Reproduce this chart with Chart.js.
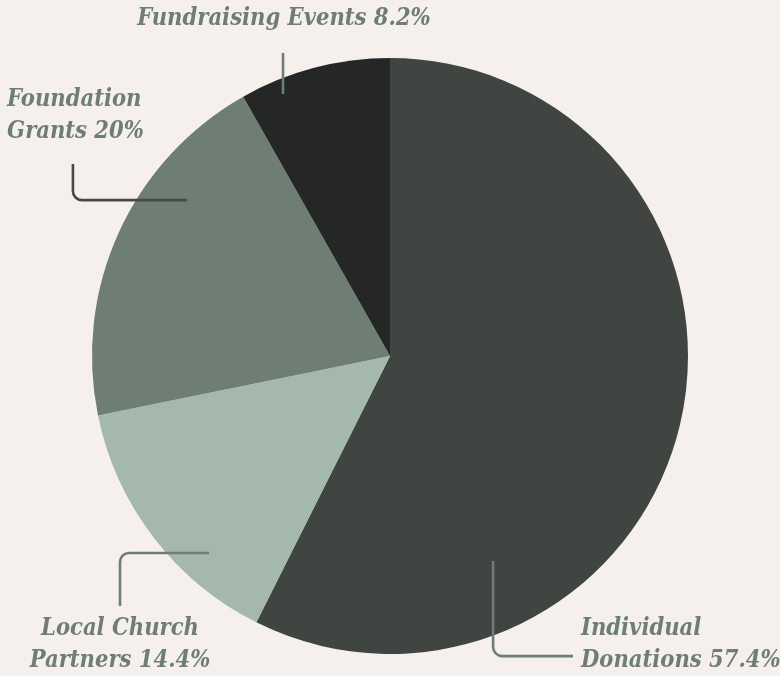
<!DOCTYPE html>
<html><head><meta charset="utf-8">
<script src="https://cdn.jsdelivr.net/npm/chart.js@4"></script>
<style>html,body{margin:0;padding:0;background:#f5f0ec;}#wrap{width:780px;height:676px;position:relative;}</style>
</head><body><div id="wrap"><canvas id="c" width="780" height="676"></canvas></div>
<script>
const categories = ['Individual Donations', 'Local Church Partners', 'Foundation Grants', 'Fundraising Events'];
const values = [57.4, 14.4, 20, 8.2];
const colors = ['#404541', '#a4b9ac', '#6e7e75', '#242725'];
const labelLines = [['Individual', 'Donations 57.4%'], ['Local Church', 'Partners 14.4%'], ['Foundation', 'Grants 20%'], ['Fundraising Events 8.2%']];

const FONT = 'italic bold 23.5px "DejaVu Serif Condensed", "DejaVu Serif"';
const TXT = '#6e7e75';

// annotation layout, in units of radius relative to pie center
const annot = [
  {line: [[0.346, 0.688], [0.346, 1.007], [0.614, 1.007]], lineColor: '#6e7e75', text: {x: 0.641, y: 0.915, align: 'left'}},
  {line: [[-0.607, 0.661], [-0.906, 0.661], [-0.906, 0.839]], lineColor: '#6e7e75', text: {x: -0.906, y: 0.915, align: 'center'}},
  {line: [[-1.064, -0.644], [-1.064, -0.523], [-0.681, -0.523]], lineColor: '#454a46', text: {x: -1.285, y: -0.861, align: 'left'}},
  {line: [[-0.359, -1.017], [-0.359, -0.879]], lineColor: '#6e7e75', text: {x: -0.356, y: -1.131, align: 'center'}}
];

const labelPlugin = {
  id: 'labels',
  afterDatasetsDraw(chart) {
    const ctx = chart.ctx;
    const arc = chart.getDatasetMeta(0).data[0];
    const cx = arc.x, cy = arc.y, R = arc.outerRadius;
    ctx.save();
    annot.forEach((a, i) => {
      const pts = a.line.map(p => [cx + p[0] * R, cy + p[1] * R]);
      ctx.strokeStyle = a.lineColor;
      ctx.lineWidth = 2.6;
      ctx.lineCap = 'butt';
      ctx.lineJoin = 'round';
      ctx.beginPath();
      ctx.moveTo(pts[0][0], pts[0][1]);
      for (let k = 1; k < pts.length - 1; k++) ctx.arcTo(pts[k][0], pts[k][1], pts[k + 1][0], pts[k + 1][1], 9);
      ctx.lineTo(pts[pts.length - 1][0], pts[pts.length - 1][1]);
      ctx.stroke();
      ctx.fillStyle = TXT;
      ctx.font = FONT;
      ctx.textAlign = a.text.align;
      ctx.textBaseline = 'middle';
      const tx = cx + a.text.x * R, ty = cy + a.text.y * R;
      labelLines[i].forEach((s, k) => ctx.fillText(s, tx, ty + k * 32));
    });
    ctx.restore();
  }
};

new Chart(document.getElementById('c'), {
  type: 'pie',
  data: { labels: categories, datasets: [{ data: values, backgroundColor: colors, borderWidth: 0, hoverOffset: 0 }] },
  options: {
    responsive: false,
    animation: false,
    layout: { padding: { top: 58, bottom: 22, left: 92, right: 92 } },
    plugins: { legend: { display: false }, tooltip: { enabled: false } }
  },
  plugins: [labelPlugin]
});
</script></body></html>
